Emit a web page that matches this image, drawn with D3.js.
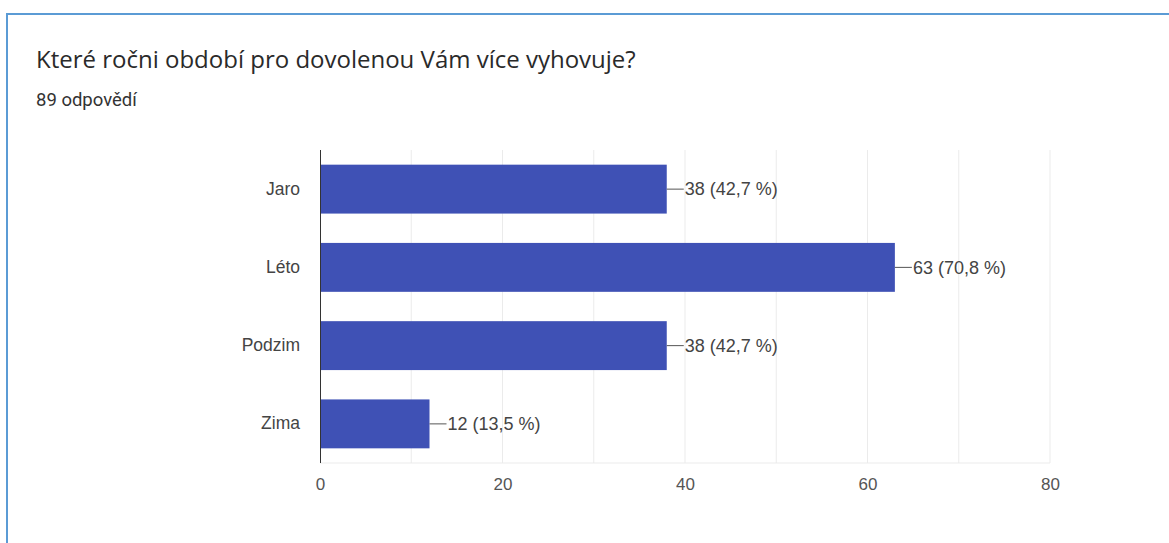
<!DOCTYPE html>
<html>
<head>
<meta charset="utf-8">
<script src="https://cdn.jsdelivr.net/npm/d3@7"></script>
<style>
  html, body { margin: 0; padding: 0; background: #ffffff; }
  svg { display: block; }
</style>
</head>
<body>
<svg id="chart" width="1169" height="543"></svg>
<script>
// Survey answers: preferred season for a holiday
const categories = ["Jaro", "Léto", "Podzim", "Zima"];
const counts = [38, 63, 38, 12];
const percentLabels = ["42,7 %", "70,8 %", "42,7 %", "13,5 %"];
const tickValues = [0, 20, 40, 60, 80];
const gridValues = [10, 20, 30, 40, 50, 60, 70, 80];
const titleText = "Které ročni období pro dovolenou Vám více vyhovuje?";
const subtitleText = "89 odpovědí";

const svg = d3.select("#chart");

// Card outline (left and top edges visible)
svg.append("rect")
  .attr("x", 7).attr("y", 14)
  .attr("width", 1200).attr("height", 600)
  .attr("fill", "#ffffff")
  .attr("stroke", "#5b9bd5")
  .attr("stroke-width", 2);

svg.append("text")
  .attr("x", 36).attr("y", 68)
  .attr("font-family", "'Open Sans', sans-serif")
  .attr("font-size", 24)
  .attr("fill", "#2a2a2a")
  .text(titleText);

svg.append("text")
  .attr("x", 36).attr("y", 106)
  .attr("font-family", "Roboto, sans-serif")
  .attr("font-size", 18.5)
  .attr("fill", "#333333")
  .text(subtitleText);

const plot = { left: 320, right: 1050, top: 150, bottom: 463 };

const x = d3.scaleLinear().domain([0, 80]).range([plot.left, plot.right]);
const y = d3.scaleBand()
  .domain(categories)
  .range([plot.top, plot.bottom])
  .paddingInner(0.375)
  .paddingOuter(0.1875);

const g = svg.append("g");

// Vertical grid lines
g.selectAll("line.grid")
  .data(gridValues)
  .join("line")
  .attr("class", "grid")
  .attr("x1", d => x(d)).attr("x2", d => x(d))
  .attr("y1", plot.top).attr("y2", plot.bottom)
  .attr("stroke", "#ebebeb")
  .attr("stroke-width", 1);

// Baseline at the bottom of the plot
g.append("line")
  .attr("x1", plot.left).attr("x2", plot.right)
  .attr("y1", plot.bottom).attr("y2", plot.bottom)
  .attr("stroke", "#ebebeb");

// Bars
g.selectAll("rect.bar")
  .data(categories)
  .join("rect")
  .attr("class", "bar")
  .attr("x", x(0))
  .attr("y", d => y(d))
  .attr("width", (d, i) => x(counts[i]) - x(0))
  .attr("height", y.bandwidth())
  .attr("fill", "#3f51b5");

// Leader lines and value labels
const leader = 17;
g.selectAll("line.leader")
  .data(categories)
  .join("line")
  .attr("class", "leader")
  .attr("x1", (d, i) => x(counts[i]))
  .attr("x2", (d, i) => x(counts[i]) + leader)
  .attr("y1", d => y(d) + y.bandwidth() / 2)
  .attr("y2", d => y(d) + y.bandwidth() / 2)
  .attr("stroke", "#555555")
  .attr("stroke-width", 1);

g.selectAll("text.value")
  .data(categories)
  .join("text")
  .attr("class", "value")
  .attr("x", (d, i) => x(counts[i]) + leader + 1)
  .attr("y", d => y(d) + y.bandwidth() / 2)
  .attr("dy", "0.35em")
  .attr("font-family", "'Liberation Sans', Arial, sans-serif")
  .attr("font-size", 18)
  .attr("fill", "#444444")
  .text((d, i) => `${counts[i]} (${percentLabels[i]})`);

// Category axis
const yAxis = d3.axisLeft(y).tickSize(0).tickPadding(20);
const ya = svg.append("g")
  .attr("transform", `translate(${plot.left},0)`)
  .call(yAxis);
ya.select(".domain")
  .attr("stroke", "#333333")
  .attr("d", `M0.5,${plot.top}V${plot.bottom}`);
ya.selectAll("text")
  .attr("font-family", "'Liberation Sans', Arial, sans-serif")
  .attr("font-size", 17.5)
  .attr("fill", "#444444");

// Value axis
const xAxis = d3.axisBottom(x).tickValues(tickValues).tickSize(0).tickPadding(15);
const xa = svg.append("g")
  .attr("transform", `translate(0,${plot.bottom})`)
  .call(xAxis);
xa.select(".domain").remove();
xa.selectAll("text")
  .attr("font-family", "'Liberation Sans', Arial, sans-serif")
  .attr("font-size", 17)
  .attr("fill", "#555555");
</script>
</body>
</html>
